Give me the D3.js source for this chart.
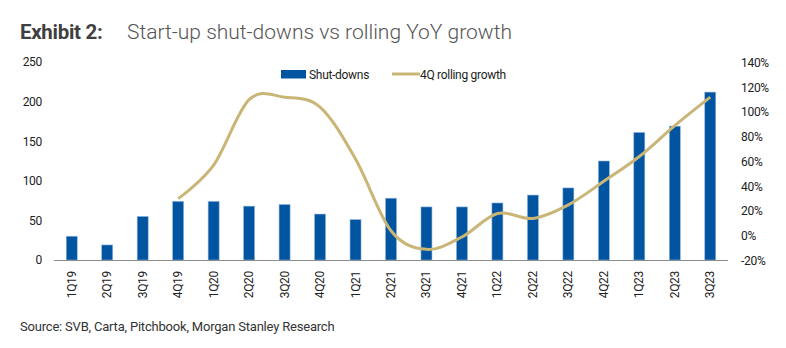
<!DOCTYPE html>
<html>
<head>
<meta charset="utf-8">
<script src="https://cdn.jsdelivr.net/npm/d3@7"></script>
<style>
  html, body { margin: 0; padding: 0; background: #fff; }
  svg { display: block; font-family: Roboto, "Noto Sans", sans-serif; }
</style>
</head>
<body>
<svg id="chart" width="786" height="348"></svg>
<script>
// Quarterly start-up shut-downs (left axis) and 4-quarter rolling growth (right axis, %)
const quarters = ["1Q19","2Q19","3Q19","4Q19","1Q20","2Q20","3Q20","4Q20","1Q21","2Q21",
                  "3Q21","4Q21","1Q22","2Q22","3Q22","4Q22","1Q23","2Q23","3Q23"];
const shutDowns = [30, 19, 55, 74, 74, 68, 70, 58, 51, 78, 67, 67, 72, 82, 91, 125, 161, 169, 212];
// Rolling growth is only defined from 4Q19 onwards
const rollingGrowth = [null, null, null, 30, 57, 110, 112, 104, 62, 4, -11, -1, 18, 14, 25, 44, 64, 89, 112];
const leftTicks = [0, 50, 100, 150, 200, 250];
const rightTicks = [-20, 0, 20, 40, 60, 80, 100, 120, 140];

const svg = d3.select("#chart");
const plot = { left: 54, right: 728, top: 62, bottom: 260 };

const x = d3.scaleBand()
  .domain(quarters)
  .range([plot.left, plot.right])
  .paddingInner(0.69)
  .paddingOuter(0.345);

const yLeft = d3.scaleLinear().domain([0, 250]).range([plot.bottom, plot.top]);
const yRight = d3.scaleLinear().domain([-20, 140]).range([plot.bottom + 0.5, plot.top + 0.5]);

// Title
svg.append("text")
  .attr("x", 20).attr("y", 39)
  .attr("font-size", 20.5).attr("font-weight", 700)
  .attr("fill", "#404040")
  .attr("letter-spacing", -0.3)
  .text("Exhibit 2:");
svg.append("text")
  .attr("x", 127).attr("y", 39)
  .attr("font-size", 21).attr("font-weight", 300)
  .attr("fill", "#555")
  .text("Start-up shut-downs vs rolling YoY growth");

// Bars
svg.append("g")
  .selectAll("rect")
  .data(quarters.map((q, i) => ({ q, v: shutDowns[i] })))
  .join("rect")
  .attr("x", d => x(d.q))
  .attr("y", d => yLeft(d.v))
  .attr("width", x.bandwidth())
  .attr("height", d => yLeft(0) - yLeft(d.v))
  .attr("fill", "#0054a0")
  .attr("stroke", "#8fb4dc")
  .attr("stroke-width", 0.6);

// Baseline
svg.append("line")
  .attr("x1", plot.left).attr("x2", plot.right)
  .attr("y1", plot.bottom + 0.5).attr("y2", plot.bottom + 0.5)
  .attr("stroke", "#8c8c8c").attr("stroke-width", 1);

// Growth line (smoothed)
const growthPts = quarters.map((q, i) => ({ q, v: rollingGrowth[i] })).filter(d => d.v !== null);
const line = d3.line()
  .x(d => x(d.q) + x.bandwidth() / 2)
  .y(d => yRight(d.v))
  .curve(d3.curveCardinal.tension(0));
svg.append("path")
  .datum(growthPts)
  .attr("d", line)
  .attr("fill", "none")
  .attr("stroke", "#c9b676")
  .attr("stroke-width", 3)
  .attr("stroke-linecap", "butt");

// Left axis
const axisLeft = d3.axisLeft(yLeft).tickValues(leftTicks).tickSize(0).tickPadding(0);
svg.append("g")
  .attr("transform", "translate(42,0)")
  .call(axisLeft)
  .call(g => g.select(".domain").remove())
  .call(g => g.selectAll("text")
    .attr("font-family", "Roboto, sans-serif")
    .attr("font-size", 12).attr("fill", "#222").attr("letter-spacing", -0.3));

// Right axis
const axisRight = d3.axisRight(yRight).tickValues(rightTicks).tickSize(0).tickPadding(0)
  .tickFormat(d => d + "%");
svg.append("g")
  .attr("transform", "translate(741,0)")
  .call(axisRight)
  .call(g => g.select(".domain").remove())
  .call(g => g.selectAll("text")
    .attr("font-family", "Roboto, sans-serif")
    .attr("font-size", 12).attr("fill", "#222").attr("letter-spacing", -0.3));

// Category axis with rotated labels
const axisBottom = d3.axisBottom(x).tickSize(0).tickPadding(0);
svg.append("g")
  .attr("transform", `translate(0,${plot.bottom})`)
  .call(axisBottom)
  .call(g => g.select(".domain").remove())
  .call(g => g.selectAll("text")
    .attr("font-family", "Roboto, sans-serif")
    .attr("font-size", 12).attr("fill", "#222").attr("letter-spacing", -0.3)
    .attr("text-anchor", "end")
    .attr("dy", null)
    .attr("y", 0).attr("x", 0)
    .attr("transform", "translate(4,11) rotate(-90)"));

// Legend
const legend = svg.append("g").attr("font-size", 12).attr("fill", "#222");
legend.append("rect")
  .attr("x", 281).attr("y", 70).attr("width", 25).attr("height", 8.5)
  .attr("fill", "#0054a0");
legend.append("text")
  .attr("x", 309).attr("y", 78.5).attr("letter-spacing", -0.3)
  .text("Shut-downs");
legend.append("line")
  .attr("x1", 392).attr("x2", 420).attr("y1", 74).attr("y2", 74)
  .attr("stroke", "#c9b676").attr("stroke-width", 3);
legend.append("text")
  .attr("x", 420).attr("y", 78.5).attr("letter-spacing", -0.3)
  .text("4Q rolling growth");

// Source note
svg.append("text")
  .attr("x", 20).attr("y", 331)
  .attr("font-size", 13).attr("fill", "#333").attr("letter-spacing", -0.2)
  .text("Source: SVB, Carta, Pitchbook, Morgan Stanley Research");
</script>
</body>
</html>
